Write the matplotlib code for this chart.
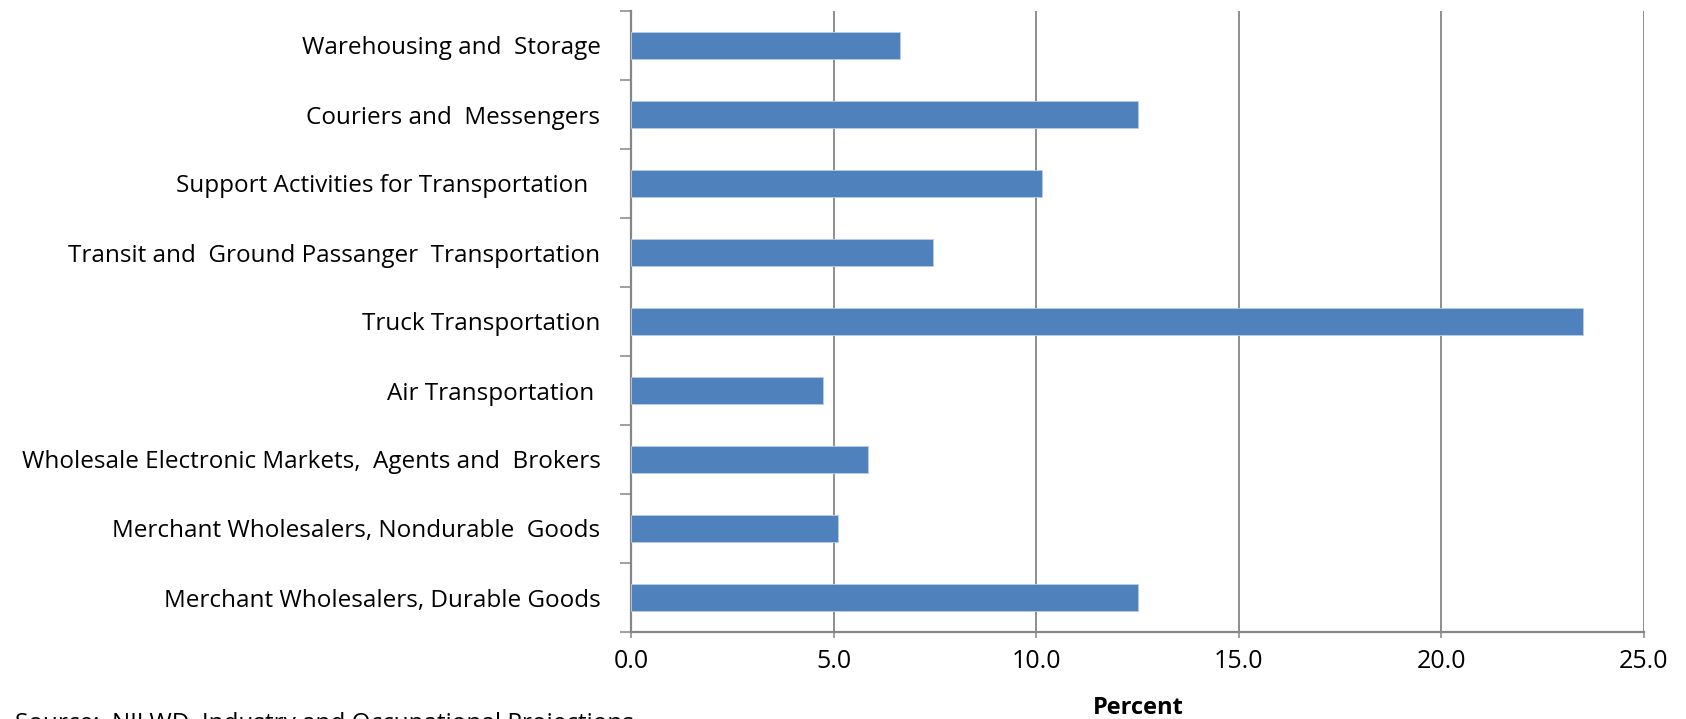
import numpy as np
import matplotlib
matplotlib.use("Agg")
from matplotlib import pyplot as plt
from matplotlib.ticker import FixedLocator

plt.rcParams["font.family"] = ["Open Sans", "DejaVu Sans"]

categories = [
    "Merchant Wholesalers, Durable Goods",
    "Merchant Wholesalers, Nondurable  Goods",
    "Wholesale Electronic Markets,  Agents and  Brokers",
    "Air Transportation ",
    "Truck Transportation",
    "Transit and  Ground Passanger  Transportation",
    "Support Activities for Transportation  ",
    "Couriers and  Messengers",
    "Warehousing and  Storage",
]
percent = [12.5, 5.1, 5.85, 4.75, 23.5, 7.45, 10.15, 12.5, 6.65]
x_ticks = [0.0, 5.0, 10.0, 15.0, 20.0, 25.0]

bar_color = "#4F81BD"
axis_gray = "#868686"

fig = plt.figure(figsize=(16.86, 7.19), dpi=100)
ax = fig.add_axes([631 / 1686, 1 - 632 / 719, (1644 - 631) / 1686, (632 - 11) / 719])

y = np.arange(len(categories))
ax.barh(y, percent, height=0.4, color=bar_color, edgecolor="#B9CDE5", linewidth=0.6, zorder=3)

ax.set_xlim(0, 25)
ax.set_ylim(-0.5, len(categories) - 0.5)

ax.set_xticks(x_ticks)
ax.set_xticklabels([f"{v:.1f}" for v in x_ticks], fontsize=18)
ax.xaxis.grid(True, color=axis_gray, linewidth=1.3, zorder=0)
ax.tick_params(axis="x", direction="out", length=4.5, width=1.1, color=axis_gray, pad=8)

ax.set_yticks(y)
ax.set_yticklabels(categories, fontsize=17.5)
ax.yaxis.set_minor_locator(FixedLocator(np.arange(-0.5, len(categories), 1.0)))
ax.tick_params(axis="y", which="major", length=0, pad=22)
ax.tick_params(axis="y", which="minor", direction="out", length=8, width=1.1, color=axis_gray)

for side in ["top", "right"]:
    ax.spines[side].set_visible(False)
for side in ["left", "bottom"]:
    ax.spines[side].set_color(axis_gray)
    ax.spines[side].set_linewidth(1.6)

fig.text(1138 / 1686, 1 - 708 / 719, "Percent", fontsize=17, fontweight="bold",
         ha="center", va="center")
fig.text(15 / 1686, 1 - 712 / 719, "Source:  NJLWD, Industry and Occupational Projections",
         fontsize=17.5, ha="left", va="top")

fig.savefig("out.png", dpi=100)
